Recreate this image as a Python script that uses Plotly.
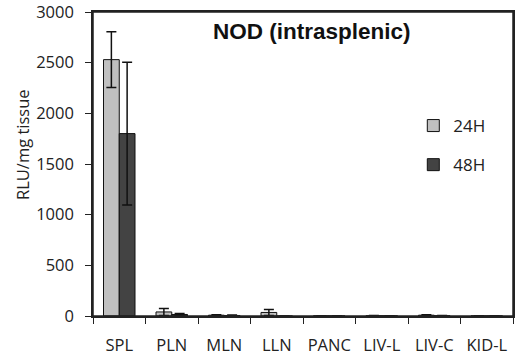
import plotly.graph_objects as go

categories = ["SPL", "PLN", "MLN", "LLN", "PANC", "LIV-L", "LIV-C", "KID-L"]
vals_24h = [2530, 40, 8, 35, 2, 3, 8, 1]
err_24h = [275, 35, 5, 30, 1, 2, 4, 1]
vals_48h = [1800, 15, 5, 0, 1, 2, 3, 1]
err_48h = [705, 10, 4, 0, 1, 1, 2, 1]
y_ticks = [0, 500, 1000, 1500, 2000, 2500, 3000]

PLOT_TOP, PLOT_BOTTOM, PLOT_LEFT, PLOT_RIGHT = 12, 316, 93, 513
PH = PLOT_BOTTOM - PLOT_TOP
PW = PLOT_RIGHT - PLOT_LEFT

fig = go.Figure()
fig.add_trace(go.Bar(
    x=categories, y=vals_24h, name="24H", legendgroup="a",
    marker=dict(color="#c0c0c0", line=dict(color="#111", width=1)),
    error_y=dict(type="data", array=err_24h, color="#111", thickness=1.5, width=5),
))
fig.add_trace(go.Bar(
    x=categories, y=vals_48h, name="48H", legendgroup="b",
    marker=dict(color="#434343", line=dict(color="#111", width=1)),
    error_y=dict(type="data", array=err_48h, color="#111", thickness=1.5, width=5),
))

font = "Open Sans, Lato, sans-serif"
fig.update_layout(
    width=520, height=356,
    margin=dict(l=PLOT_LEFT, r=520 - PLOT_RIGHT, t=PLOT_TOP, b=356 - PLOT_BOTTOM, autoexpand=False),
    paper_bgcolor="white", plot_bgcolor="white",
    barmode="group", bargap=0.4, bargroupgap=0,
    font=dict(family=font, size=16, color="#222"),
    showlegend=True,
    legend=dict(x=(428 - PLOT_LEFT) / PW - 0.035, y=1 - (108 - PLOT_TOP) / PH, xanchor="left", yanchor="top",
                tracegroupgap=14, font=dict(size=17, family=font),
                itemwidth=30, bgcolor="rgba(0,0,0,0)"),
    annotations=[
        dict(text="<b>NOD (intrasplenic)</b>", x=(311.5 - PLOT_LEFT) / PW, y=(PLOT_BOTTOM - 32) / PH,
             xref="paper", yref="paper", showarrow=False, xanchor="center", yanchor="middle",
             font=dict(family="Liberation Sans, Arial", size=22.5, color="#111")),
        dict(text="RLU/mg tissue", x=(22 - PLOT_LEFT) / PW, xref="paper", y=(PLOT_BOTTOM - 145) / PH, yref="paper",
             showarrow=False, textangle=-90, xanchor="center", yanchor="middle",
             font=dict(size=16.5, family=font, color="#222")),
    ],
    shapes=[dict(type="rect", xref="paper", yref="paper", x0=0, x1=1, y0=0, y1=1,
                 line=dict(color="#222", width=1.5), layer="above")],
)
fig.update_xaxes(
    automargin=False,
    showline=True, linecolor="#222", linewidth=1.5, mirror=True,
    ticks="outside", tickson="boundaries", ticklen=6, tickcolor="#222",
    tickfont=dict(size=16.5), ticklabelstandoff=13, showgrid=False,
    ticklabeloverflow="allow",
)
fig.update_yaxes(
    automargin=False,
    range=[0, 3000], tickvals=y_ticks, showline=True, linecolor="#222",
    linewidth=1.5, mirror=True, ticks="outside", ticklen=6, tickcolor="#222",
    tickfont=dict(size=16.5), showgrid=False, zeroline=False,
    ticklabeloverflow="allow", ticklabelstandoff=8,
)
fig.write_html("out.html", config={"displayModeBar": False},
               post_script="document.body.style.margin='0';")
